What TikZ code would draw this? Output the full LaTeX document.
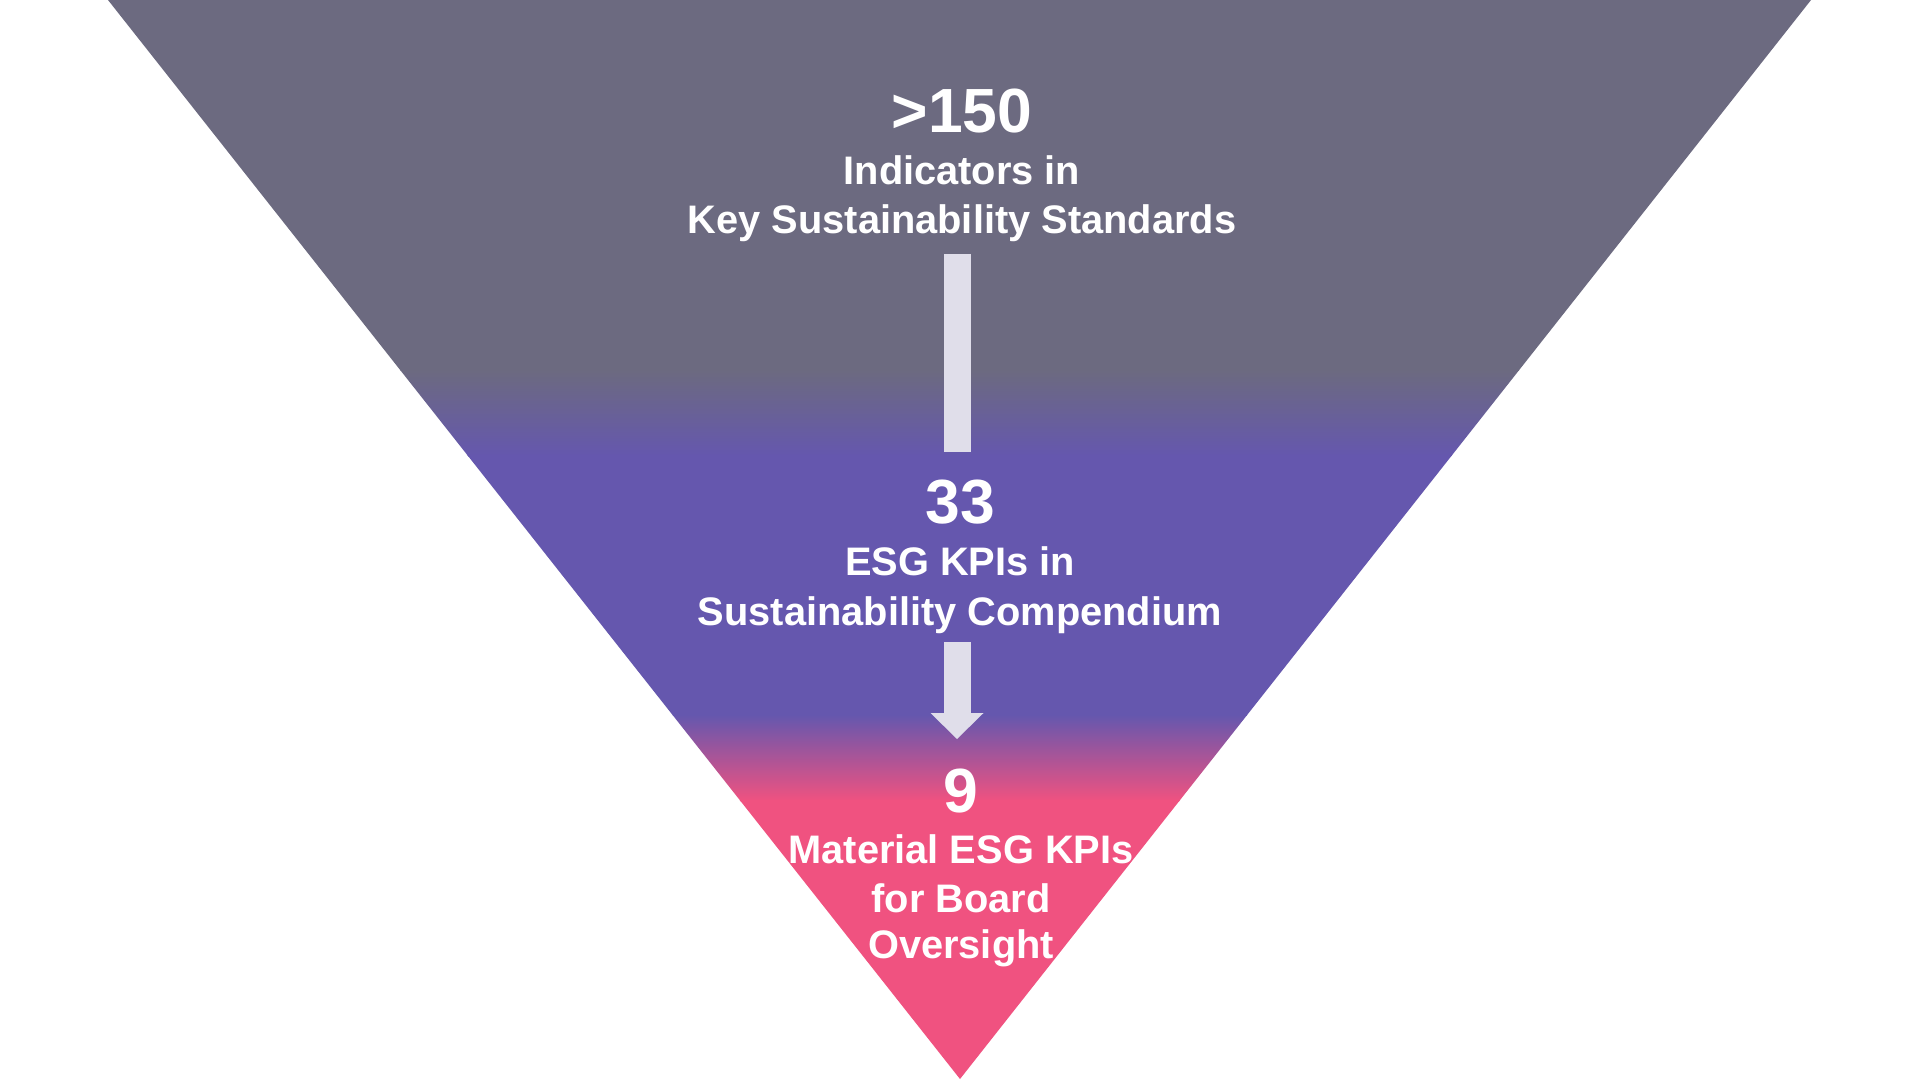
\documentclass[tikz,border=0pt]{standalone}
\usepackage{fontspec}
\setmainfont{Liberation Sans}
\usetikzlibrary{arrows.meta}
\definecolor{funnelgray}{HTML}{6C6A80}
\definecolor{funnelblue}{HTML}{6557AE}
\definecolor{funnelpink}{HTML}{F05280}
\definecolor{arrowfill}{HTML}{E0DEEA}
\begin{document}
\begin{tikzpicture}[x=0.5pt,y=-0.5pt,
	big/.style={text=white,anchor=base,inner sep=0pt,font=\fontsize{31.2}{36}\selectfont\bfseries},
	small/.style={text=white,anchor=base,inner sep=0pt,font=\fontsize{19.9}{24}\selectfont\bfseries},
	bar/.style={arrowfill,line width=13.5pt}]
	\useasboundingbox (0,0) rectangle (1920,1080);
	\fill[white] (0,0) rectangle (1920,1080);
	
	%funnel
	\begin{scope}
	\clip (108,0) -- (1811,0) -- (960,1079) -- cycle;
	\fill[funnelgray] (0,0) rectangle (1920,371);
	\shade[top color=funnelgray,bottom color=funnelblue] (0,370) rectangle (1920,456);
	\fill[funnelblue] (0,455) rectangle (1920,716);
	\shade[top color=funnelblue,bottom color=funnelpink] (0,715) rectangle (1920,801);
	\fill[funnelpink] (0,800) rectangle (1920,1080);
	\end{scope}
	
	%labels
	\node[big]   (n150) at (962,133) {>150};
	\node[small] (ind)  at (962,185) {Indicators in};
	\node[small] (std)  at (962,234) {Key Sustainability Standards};
	\node[big]   (n33)  at (960,523) {33};
	\node[small] (kpi)  at (960,575) {ESG KPIs in};
	\node[small] (comp) at (960,625) {Sustainability Compendium};
	\node[big]   (n9)   at (961,812) {9};
	\node[small] (mat)  at (961,863) {Material ESG KPIs};
	\node[small] (brd)  at (961,912) {for Board};
	\node[small] (ovs)  at (961,958) {Oversight};
	
	%arrows
	\coordinate (a1) at (957.5,254);
	\coordinate (b1) at (957.5,452);
	\coordinate (a2) at (957,642);
	\coordinate (b2) at (957,739);
	\draw[bar] (a1) -- (b1);
	\draw[bar,-{Triangle[width=26.5pt,length=13pt,line width=0pt]}] (a2) -- (b2);
\end{tikzpicture}
\end{document}
